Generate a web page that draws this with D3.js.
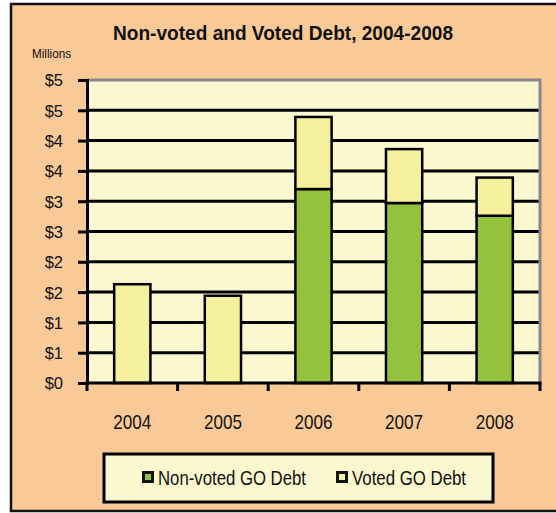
<!DOCTYPE html>
<html><head><meta charset="utf-8">
<script src="https://cdn.jsdelivr.net/npm/d3@7"></script>
<style>html,body{margin:0;padding:0;background:#fff}svg{display:block}</style>
</head><body>
<svg id="c" width="556" height="513"></svg>
<script>
const years = ["2004","2005","2006","2007","2008"];
const nonVoted = [0, 0, 3.20, 2.97, 2.76];
const voted = [1.63, 1.44, 1.19, 0.89, 0.63];
const seriesNames = ["Non-voted GO Debt", "Voted GO Debt"];
const yTicks = [0,0.5,1,1.5,2,2.5,3,3.5,4,4.5,5];

const colors = {"Non-voted GO Debt":"#95C23D","Voted GO Debt":"#F4F09E"};
const svg = d3.select("#c");
const font = "'Liberation Sans', Arial, sans-serif";

// outer frame
svg.append("rect").attr("x",11).attr("y",4).attr("width",560).attr("height",507)
  .attr("fill","#F9C998").attr("stroke","#111").attr("stroke-width",2.5);

const L=87, R=540, T=80, B=383;
const x = d3.scaleBand().domain(years).range([L,R]).paddingInner(0.6).paddingOuter(0.3);
const xo = d3.scaleBand().domain(years).range([L,R]);
const y = d3.scaleLinear().domain([0,5]).range([B,T]);

svg.append("rect").attr("x",L).attr("y",T).attr("width",R-L).attr("height",B-T).attr("fill","#FBF7CF");
// gridlines
svg.append("g").selectAll("line").data(yTicks.filter(t=>t>0&&t<5)).join("line")
  .attr("x1",L).attr("x2",R).attr("y1",d=>y(d)).attr("y2",d=>y(d))
  .attr("stroke","#000").attr("stroke-width",3);
// plot border gray top/right
svg.append("path").attr("d",`M${L},${T}H${R}V${B}`).attr("fill","none").attr("stroke","#888").attr("stroke-width",3);

// bars
const rows = years.map((yr,i)=>({year:yr,"Non-voted GO Debt":nonVoted[i],"Voted GO Debt":voted[i]}));
const stack = d3.stack().keys(seriesNames)(rows);
svg.append("g").selectAll("g").data(stack).join("g").attr("fill",d=>colors[d.key])
  .selectAll("rect").data(d=>d.filter(p=>p[1]-p[0]>0)).join("rect")
  .attr("x",d=>x(d.data.year)).attr("width",x.bandwidth())
  .attr("y",d=>y(d[1])).attr("height",d=>y(d[0])-y(d[1]))
  .attr("stroke","#000").attr("stroke-width",2.5);

// y axis
const yAxis = d3.axisLeft(y).tickValues(yTicks).tickSize(9).tickPadding(15)
  .tickFormat(d=>"$"+Math.round(d+1e-9));
const ya = svg.append("g").attr("transform",`translate(${L},0)`).call(yAxis);
ya.select(".domain").attr("stroke","#000").attr("stroke-width",3);
ya.selectAll(".tick line").attr("stroke","#000").attr("stroke-width",3);
ya.selectAll("text").attr("font-family",font).attr("font-size",16.5).attr("fill","#111")
  .attr("dy","0.36em");

// x axis
const xa = svg.append("g").attr("transform",`translate(0,${B})`);
xa.append("line").attr("x1",L-1.5).attr("x2",R+1.5).attr("y1",0).attr("y2",0).attr("stroke","#000").attr("stroke-width",3);
xa.selectAll("line.tk").data(years.concat(["end"])).join("line").attr("class","tk")
  .attr("x1",(d,i)=>L+i*xo.step()).attr("x2",(d,i)=>L+i*xo.step()).attr("y1",0).attr("y2",8)
  .attr("stroke","#000").attr("stroke-width",3);
xa.selectAll("text").data(years).join("text")
  .attr("x",d=>xo(d)+xo.bandwidth()/2).attr("y",46).attr("text-anchor","middle")
  .attr("font-family",font).attr("font-size",21).attr("fill","#111")
  .attr("textLength",38).attr("lengthAdjust","spacingAndGlyphs").text(d=>d);

// title
svg.append("text").attr("x",283).attr("y",40).attr("text-anchor","middle")
  .attr("font-family",font).attr("font-weight","bold").attr("font-size",21).attr("fill","#111")
  .attr("textLength",340).attr("lengthAdjust","spacingAndGlyphs")
  .text("Non-voted and Voted Debt, 2004-2008");
svg.append("text").attr("x",32).attr("y",58).attr("font-family",font).attr("font-size",13)
  .attr("fill","#111").attr("textLength",39).attr("lengthAdjust","spacingAndGlyphs").text("Millions");

// legend
const lg = svg.append("g");
lg.append("rect").attr("x",104).attr("y",454).attr("width",389).attr("height",48)
  .attr("fill","#FBF7CF").attr("stroke","#000").attr("stroke-width",3);
const lx = [142, 336], tl=[148,114];
seriesNames.forEach((s,i)=>{
  lg.append("rect").attr("x",lx[i]+1.5).attr("y",472.5).attr("width",9).attr("height",9)
    .attr("fill",colors[s]).attr("stroke","#111").attr("stroke-width",3);
  lg.append("text").attr("x",lx[i]+16).attr("y",485).attr("font-family",font).attr("font-size",20)
    .attr("fill","#111").attr("textLength",tl[i]).attr("lengthAdjust","spacingAndGlyphs").text(s);
});
</script>
</body></html>
